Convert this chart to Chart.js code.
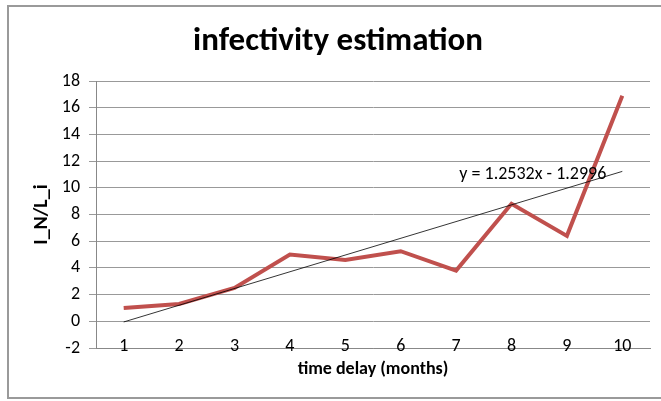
<!DOCTYPE html>
<html>
<head>
<meta charset="utf-8">
<script src="https://cdn.jsdelivr.net/npm/chart.js@4/dist/chart.umd.min.js"></script>
<style>
    html, body { margin: 0; padding: 0; background: #fff; }
    #wrap { position: relative; width: 661px; height: 401px; overflow: hidden; }
    #frame { position: absolute; left: 7px; top: 5px; width: 700px; height: 394px; border: 2px solid #9a9a9a; box-sizing: border-box; }
    canvas { position: absolute; left: 0; top: 0; }
</style>
</head>
<body>
<div id="wrap">
    <div id="frame"></div>
    <canvas id="chart" width="661" height="401"></canvas>
</div>
<script>
const months = ["1", "2", "3", "4", "5", "6", "7", "8", "9", "10"];
const ratio = [1.0, 1.3, 2.5, 5.0, 4.6, 5.25, 3.8, 8.8, 6.4, 16.9];
// trend line end points
const trendX = ["1", "10"];
const trendY = [-0.05, 11.23];
const trendLabel = "y = 1.2532x - 1.2996";

const fontFamily = "Carlito, 'Liberation Sans Narrow', 'Open Sans', sans-serif";

// Excel puts the category labels right on the bottom line, chart.js would clip them
const overlayText = {
    id: "overlayText",
    afterDraw(chart) {
        const ctx = chart.ctx;
        const xs = chart.scales.x;
        const ys = chart.scales.y;
        ctx.save();
        ctx.font = "18px " + fontFamily;
        ctx.fillStyle = "#000";
        ctx.textAlign = "center";
        ctx.textBaseline = "middle";
        const yLab = ys.getPixelForValue(ys.min) - 2;
        months.forEach((m, i) => {
            ctx.fillText(m, xs.getPixelForValue(i), yLab);
        });

        ctx.textAlign = "right";
        const ex = xs.getPixelForValue(months.length - 1) - 16;
        const ey = ys.getPixelForValue(trendY[1]) + 3;
        ctx.fillText(trendLabel, ex, ey);
        ctx.restore();
    }
};

new Chart(document.getElementById("chart"), {
    type: "line",
    data: {
        labels: months,
        datasets: [
            {
                label: "I_N/L_i",
                data: ratio,
                borderColor: "#c0504d",
                borderWidth: 4,
                pointRadius: 0,
                tension: 0,
                order: 1,
            },
            {
                label: "trend",
                data: trendX.map((m, i) => ({ x: m, y: trendY[i] })),
                borderColor: "#000",
                borderWidth: 0.8,
                pointRadius: 0,
                order: 0,
            },
        ],
    },
    options: {
        responsive: false,
        animation: false,
        layout: { padding: { left: 26, right: 11, top: 0, bottom: 0 } },
        plugins: {
            legend: { display: false },
            tooltip: { enabled: false },
            title: {
                display: true,
                text: "infectivity estimation",
                color: "#000",
                font: { family: fontFamily, size: 33, weight: "bold" },
                padding: { top: 22, bottom: 19.4 },
            },
        },
        scales: {
            x: {
                offset: true,
                grid: { display: false, drawTicks: false },
                border: { color: "#888", width: 1 },
                ticks: { display: false },
                title: {
                    display: true,
                    text: "time delay (months)",
                    color: "#000",
                    font: { family: fontFamily, size: 18, weight: "bold" },
                    padding: 21,
                },
                afterFit(scale) { scale.height = 53; },
            },
            y: {
                min: -2,
                max: 18,
                grid: { color: "#999", tickLength: 7 },
                border: { color: "#888", width: 1 },
                ticks: {
                    stepSize: 2,
                    color: "#000",
                    padding: 9,
                    font: { family: fontFamily, size: 18 },
                },
                title: {
                    display: true,
                    text: "I_N/L_i",
                    color: "#000",
                    font: { family: fontFamily, size: 20, weight: "bold" },
                    padding: { top: 4, bottom: 4 },
                },
                afterFit(scale) { scale.width = 70; },
            },
        },
    },
    plugins: [overlayText],
});
</script>
</body>
</html>
